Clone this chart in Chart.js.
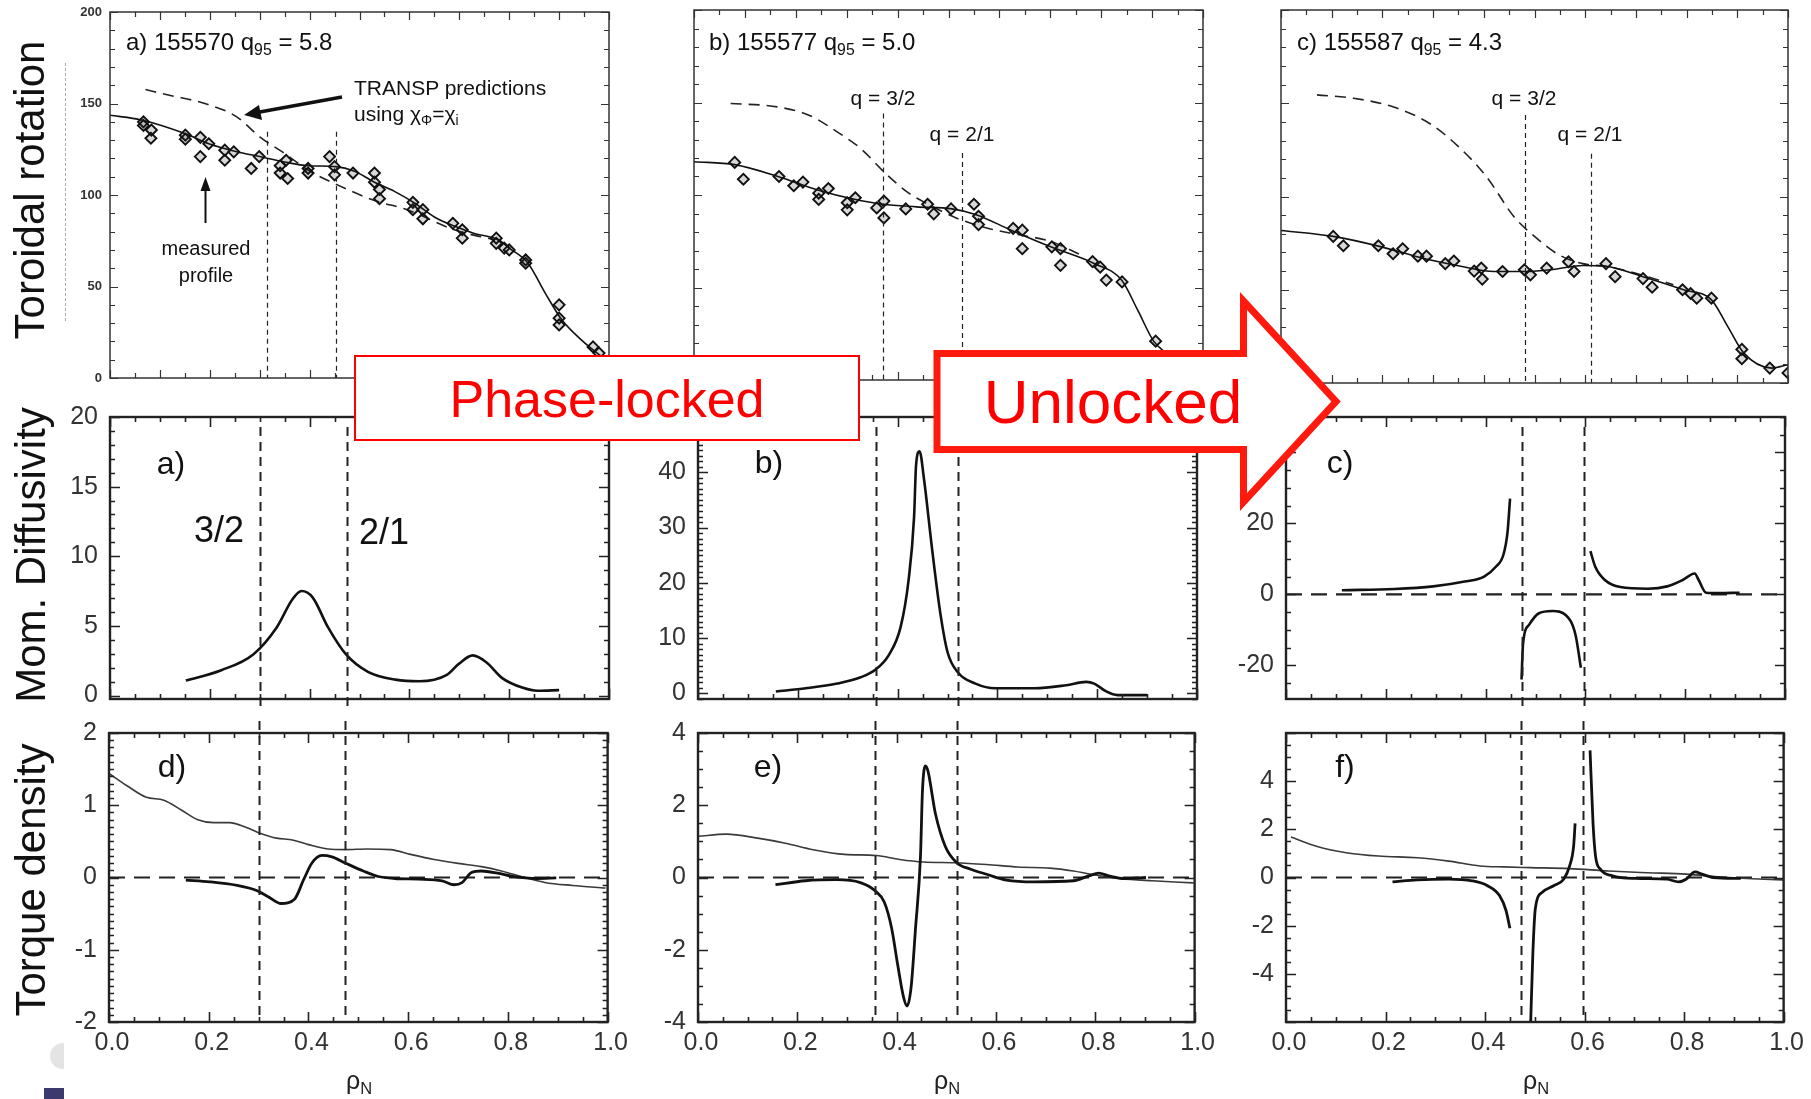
<!DOCTYPE html>
<html>
<head>
<meta charset="utf-8">
<title>Toroidal rotation, momentum diffusivity and torque density</title>
<script src="https://cdn.jsdelivr.net/npm/chart.js"></script>
<style>
  html, body { margin:0; padding:0; background:#fff; }
  body { width:1811px; height:1099px; overflow:hidden; position:relative; font-family:"Liberation Sans", Arial, Helvetica, sans-serif; }
  .pane { position:absolute; }
  .pane canvas { display:block; }
  .lbl { position:absolute; white-space:nowrap; line-height:1; color:#111; transform:translate(-50%,-50%); }
  .lft { position:absolute; white-space:nowrap; line-height:1; color:#111; transform:translateY(-50%); }
  .yt { position:absolute; white-space:nowrap; line-height:1; font-size:42px; color:#111; transform:translate(-50%,-50%) rotate(-90deg); }
  sub { font-size:0.66em; vertical-align:-0.32em; line-height:0; }
  #ov { position:absolute; left:0; top:0; z-index:5; pointer-events:none; }
</style>
</head>
<body>
<script>
// ---------------- tick labels ----------------
const RHO_TICKS   = [0, 0.2, 0.4, 0.6, 0.8, 1.0];
const ROT_TICKS   = [0, 50, 100, 150, 200];
const DIF_A_TICKS = [0, 5, 10, 15, 20];
const DIF_B_TICKS = [0, 10, 20, 30, 40];
const DIF_C_TICKS = [-20, 0, 20, 40];
const TQ_D_TICKS  = [-2, -1, 0, 1, 2];
const TQ_E_TICKS  = [-4, -2, 0, 2, 4];
const TQ_F_TICKS  = [-4, -2, 0, 2, 4];

// ---------------- rational surfaces (rho_N) ----------------
const QTOP_A = [0.315, 0.452], QTOP_A_FROM = [134.5, 134.5];
const QTOP_B = [0.3705, 0.526], QTOP_B_FROM = [144, 122.7];
const QTOP_C = [0.482, 0.612], QTOP_C_FROM = [143.75, 122.9];
const Q_A = [0.300, 0.474];
const Q_B = [0.356, 0.521];
const Q_C = [0.473, 0.597];

// ---------------- toroidal rotation, shot 155570 ----------------
const fitA_rho = [0, 0.063, 0.15, 0.198, 0.254, 0.30, 0.35, 0.397, 0.452, 0.49, 0.53, 0.57, 0.611, 0.65, 0.69, 0.73, 0.778, 0.80, 0.837, 0.873, 0.905, 0.944, 0.984, 1.0];
const fitA_v   = [143.6, 141, 133.6, 128, 123.6, 121, 118, 116, 115.5, 113, 107, 102, 95.5, 88, 83, 79, 75.5, 71, 63, 46, 32, 21, 12, 9];
const predA_rho = [0.071, 0.119, 0.19, 0.254, 0.30, 0.35, 0.397, 0.452, 0.53, 0.595, 0.69, 0.77];
const predA_v   = [157.6, 154.5, 150, 142.7, 131.8, 122.7, 113.6, 106, 97, 92, 81, 75.5];
const ptsA_rho = [0.067,0.067,0.083,0.082,0.151,0.151,0.181,0.181,0.198,0.23,0.23,0.248,0.283,0.299,0.341,0.341,0.353,0.356,0.397,0.397,0.44,0.45,0.45,0.487,0.53,0.53,0.54,0.54,0.607,0.607,0.627,0.627,0.687,0.706,0.706,0.774,0.774,0.79,0.80,0.833,0.833,0.9,0.9,0.9,0.968,0.98];
const ptsA_v   = [140,138,135.5,131,132.7,130.5,131.5,121,128,124.5,119,123.6,114.5,121,116,112,119,109,114.5,112,121,115.5,111,112,112,107,103,98,96,92,92,87,84.5,81,76.4,76.4,73.6,71,70,64.5,62.7,40,32.7,29,17,13.6];

// ---------------- toroidal rotation, shot 155577 ----------------
const fitB_rho = [0, 0.08, 0.165, 0.243, 0.313, 0.371, 0.437, 0.507, 0.553, 0.623, 0.701, 0.786, 0.84, 0.872, 0.903, 0.93];
const fitB_v   = [118, 116.4, 110, 102.7, 97.8, 95, 93.6, 92.5, 89.5, 81, 72, 63, 54, 37.6, 21, 14];
const predB_rho = [0.072, 0.165, 0.227, 0.282, 0.328, 0.375, 0.422, 0.46, 0.515, 0.577, 0.639, 0.70, 0.767];
const predB_v   = [149.5, 147.6, 143, 134, 125, 112, 101, 95, 87.6, 82, 78.5, 75, 66.7];
const ptsB_rho = [0.08,0.097,0.167,0.196,0.214,0.245,0.245,0.264,0.301,0.301,0.317,0.359,0.373,0.373,0.416,0.459,0.471,0.505,0.55,0.559,0.559,0.627,0.645,0.645,0.703,0.72,0.72,0.783,0.798,0.81,0.841,0.907];
const ptsB_v   = [117.6,108.5,110,105,107,101,97.6,103.5,95.8,92,98.5,93,96.7,87.6,92.5,95,89.8,92.5,95,88.5,84,82,81,71,72,71,62,64,61,54,53,21];

// ---------------- toroidal rotation, shot 155587 ----------------
const fitC_rho = [0, 0.103, 0.198, 0.278, 0.357, 0.42, 0.484, 0.54, 0.595, 0.643, 0.714, 0.794, 0.849, 0.881, 0.913, 0.968, 1.0];
const fitC_v   = [81.8, 78.6, 73, 67, 62.5, 59.8, 59.8, 61, 63, 62.5, 57, 50, 44.6, 30.4, 16, 8, 9.8];
const predC_rho = [0.071, 0.143, 0.222, 0.294, 0.349, 0.405, 0.46, 0.5, 0.548, 0.595, 0.643, 0.698, 0.774];
const predC_v   = [154.5, 152.7, 148, 139, 127, 110.7, 89, 78.6, 68.75, 64, 62.5, 59, 52.7];
const ptsC_rho = [0.103,0.123,0.192,0.221,0.24,0.27,0.287,0.324,0.341,0.381,0.395,0.397,0.437,0.48,0.492,0.524,0.567,0.578,0.641,0.659,0.714,0.732,0.792,0.808,0.82,0.849,0.909,0.909,0.964,1.0];
const ptsC_v   = [78.6,73.6,73.6,69.3,72,68,68,64,65.4,60,61.6,55.7,59.8,60.7,58,61.6,65,59.8,64,57,56,51.4,50,48,45.5,45.5,18,13,8,5.4];

// ---------------- momentum diffusivity ----------------
const difA_rho = [0.152, 0.223, 0.287, 0.334, 0.366, 0.384, 0.406, 0.437, 0.473, 0.517, 0.572, 0.62, 0.675, 0.699, 0.727, 0.754, 0.786, 0.826, 0.857, 0.9];
const difA_v   = [1.07, 1.82, 2.95, 4.89, 6.93, 7.5, 7.05, 4.89, 2.95, 1.7, 1.14, 1.02, 1.48, 2.27, 2.88, 2.39, 1.25, 0.57, 0.34, 0.39];
const difB_rho = [0.156, 0.216, 0.279, 0.326, 0.356, 0.382, 0.406, 0.422, 0.433, 0.437, 0.444, 0.453, 0.469, 0.485, 0.5, 0.521, 0.556, 0.596, 0.675, 0.738, 0.778, 0.794, 0.818, 0.841, 0.9];
const difB_v   = [0.37, 0.94, 1.79, 2.93, 4.34, 6.9, 12.0, 20.5, 31.9, 41.3, 43.8, 38.7, 26.2, 14.9, 7.5, 3.8, 1.79, 0.94, 0.94, 1.5, 2.1, 1.79, 0.37, -0.3, -0.3];
const difC1_rho = [0.112, 0.217, 0.295, 0.358, 0.397, 0.42, 0.436, 0.444, 0.449];
const difC1_v   = [1.17, 1.5, 2.25, 3.6, 5.0, 7.7, 11.3, 17.6, 27];
const difC2_rho = [0.472, 0.475, 0.487, 0.506, 0.534, 0.561, 0.58, 0.591];
const difC2_v   = [-24, -14, -8.6, -5.4, -4.7, -5.9, -11.3, -20.7];
const difC3_rho = [0.61, 0.62, 0.639, 0.67, 0.725, 0.764, 0.795, 0.819, 0.827, 0.842, 0.866, 0.909];
const difC3_v   = [12.2, 7.7, 4.05, 2.07, 1.6, 2.25, 4.05, 5.9, 4.05, 0.45, 0.36, 0.45];

// ---------------- torque density ----------------
const totD_rho = [0, 0.036, 0.075, 0.11, 0.146, 0.178, 0.21, 0.241, 0.273, 0.304, 0.336, 0.368, 0.40, 0.439, 0.474, 0.518, 0.565, 0.605, 0.652, 0.70, 0.747, 0.787, 0.834, 0.874, 0.929, 0.996];
const totD_v   = [1.44, 1.27, 1.11, 1.07, 0.93, 0.8, 0.76, 0.76, 0.7, 0.61, 0.545, 0.52, 0.455, 0.395, 0.386, 0.395, 0.386, 0.32, 0.25, 0.195, 0.15, 0.09, 0.0, -0.068, -0.11, -0.145];
const ntvD_rho = [0.154, 0.202, 0.257, 0.296, 0.32, 0.345, 0.372, 0.391, 0.407, 0.427, 0.447, 0.474, 0.51, 0.54, 0.573, 0.62, 0.668, 0.692, 0.708, 0.727, 0.747, 0.779, 0.81, 0.858, 0.897];
const ntvD_v   = [-0.036, -0.06, -0.11, -0.18, -0.27, -0.36, -0.3, -0.02, 0.2, 0.305, 0.286, 0.2, 0.09, 0.014, -0.014, -0.023, -0.045, -0.1, -0.07, 0.068, 0.09, 0.06, 0.014, -0.014, -0.005];

const totE_rho = [0, 0.057, 0.12, 0.176, 0.232, 0.295, 0.359, 0.406, 0.454, 0.517, 0.581, 0.644, 0.708, 0.756, 0.803, 0.851, 0.914, 0.998];
const totE_v   = [1.14, 1.2, 1.09, 0.95, 0.77, 0.64, 0.61, 0.5, 0.43, 0.41, 0.36, 0.29, 0.26, 0.18, 0.06, -0.03, -0.09, -0.15];
const ntvE_rho = [0.156, 0.216, 0.279, 0.327, 0.356, 0.375, 0.39, 0.402, 0.414, 0.421, 0.429, 0.438, 0.448, 0.452, 0.458, 0.463, 0.478, 0.498, 0.521, 0.549, 0.581, 0.621, 0.676, 0.756, 0.787, 0.807, 0.827, 0.859, 0.902];
const ntvE_v   = [-0.2, -0.09, -0.06, -0.14, -0.36, -0.68, -1.41, -2.41, -3.32, -3.56, -3.05, -1.41, 0.59, 2.41, 3.09, 2.95, 1.77, 0.86, 0.41, 0.23, 0.09, -0.07, -0.12, -0.09, 0.045, 0.12, 0.045, -0.03, 0.0];

const totF_rho = [0.01, 0.061, 0.124, 0.186, 0.264, 0.327, 0.39, 0.437, 0.491, 0.57, 0.648, 0.726, 0.804, 0.883, 1.0];
const totF_v   = [1.68, 1.3, 1.02, 0.89, 0.82, 0.68, 0.48, 0.44, 0.41, 0.37, 0.27, 0.2, 0.14, 0.0, -0.1];
const ntvF1_rho = [0.214, 0.264, 0.327, 0.374, 0.405, 0.429, 0.442, 0.45];
const ntvF1_v   = [-0.18, -0.1, -0.07, -0.14, -0.34, -0.75, -1.36, -2.11];
const ntvF2_rho = [0.491, 0.496, 0.501, 0.515, 0.538, 0.558, 0.57, 0.578, 0.581];
const ntvF2_v   = [-6.5, -3.2, -1.3, -0.61, -0.34, -0.07, 0.48, 1.3, 2.25];
const ntvF3_rho = [0.611, 0.617, 0.622, 0.632, 0.656, 0.703, 0.765, 0.789, 0.804, 0.822, 0.836, 0.859, 0.914];
const ntvF3_v   = [5.28, 2.25, 0.89, 0.34, 0.07, -0.04, -0.07, -0.18, -0.07, 0.23, 0.14, 0.0, -0.04];
</script>

<script>
const FONT = '"Liberation Sans", Arial, Helvetica, sans-serif';
const xy = (xs, ys) => xs.map((x, i) => ({ x: x, y: ys[i] }));
const curve = (xs, ys, w, color, dash) => ({
  type: 'line', data: xy(xs, ys), borderColor: color, borderWidth: w, borderDash: dash || [],
  pointRadius: 0, fill: false, cubicInterpolationMode: 'monotone', borderJoinStyle: 'round', borderCapStyle: 'butt'
});
const marks = (xs, ys) => ({
  type: 'scatter', data: xy(xs, ys), pointStyle: 'rectRot', pointRadius: 5.5,
  pointBorderWidth: 1.9, pointBorderColor: '#111', pointBackgroundColor: 'rgba(40,40,40,0.18)'
});
const zeroLine = () => curve([0, 1], [0, 0], 2.2, '#222', [16, 9]);

function framePlugin(o) {
  return {
    id: 'frame',
    afterDraw(chart) {
      const ctx = chart.ctx, a = chart.chartArea, xs = chart.scales.x, ys = chart.scales.y;
      const walk = (min, max, minor, major, fn) => {
        const k0 = Math.ceil(min / minor - 1e-6), k1 = Math.floor(max / minor + 1e-6);
        for (let k = k0; k <= k1; k++) {
          const v = k * minor, r = v / major;
          fn(v, Math.abs(r - Math.round(r)) < 1e-6 ? o.majLen : o.minLen);
        }
      };
      ctx.save();
      ctx.setLineDash([]);
      ctx.strokeStyle = o.color;
      ctx.lineWidth = o.tlw;
      ctx.beginPath();
      walk(xs.min, xs.max, o.xMinor, o.xMajor, (v, L) => {
        const p = Math.round(xs.getPixelForValue(v)) + 0.5;
        ctx.moveTo(p, a.bottom); ctx.lineTo(p, a.bottom - L);
        ctx.moveTo(p, a.top); ctx.lineTo(p, a.top + L);
      });
      walk(ys.min, ys.max, o.yMinor, o.yMajor, (v, L) => {
        const p = Math.round(ys.getPixelForValue(v)) + 0.5;
        ctx.moveTo(a.left, p); ctx.lineTo(a.left + L, p);
        ctx.moveTo(a.right, p); ctx.lineTo(a.right - L, p);
      });
      ctx.stroke();
      ctx.lineWidth = o.lw;
      ctx.strokeRect(a.left, a.top, a.right - a.left, a.bottom - a.top);
      ctx.restore();
    }
  };
}

function qPlugin(o) {
  return {
    id: 'qlines',
    afterDatasetsDraw(chart) {
      const ctx = chart.ctx, a = chart.chartArea, xs = chart.scales.x, ys = chart.scales.y;
      ctx.save();
      ctx.strokeStyle = o.color; ctx.lineWidth = o.lw; ctx.setLineDash(o.dash);
      o.xs.forEach((q, i) => {
        const px = Math.round(xs.getPixelForValue(q)) + 0.5;
        const y0 = o.from ? ys.getPixelForValue(o.from[i]) : a.top + o.topOff;
        const y1 = a.bottom + o.botOff;
        ctx.beginPath(); ctx.moveTo(px, y0); ctx.lineTo(px, y1); ctx.stroke();
      });
      ctx.restore();
    }
  };
}

function makeChart(box, cfg) {
  const padL = 80, padT = 22, padR = cfg.padR || 22, padB = 22, xh = cfg.xTicks ? 58 : 0;
  const w = box.R - box.L + padL + padR, h = box.B - box.T + padT + padB + xh;
  const div = document.createElement('div');
  div.className = 'pane';
  div.style.left = (box.L - padL) + 'px';
  div.style.top = (box.T - padT) + 'px';
  div.style.width = w + 'px';
  div.style.height = h + 'px';
  const cv = document.createElement('canvas');
  cv.width = w; cv.height = h;
  cv.style.width = w + 'px'; cv.style.height = h + 'px';
  div.appendChild(cv);
  document.body.appendChild(div);
  new Chart(cv, {
    type: 'line',
    data: { datasets: cfg.datasets },
    options: {
      responsive: false, animation: false, devicePixelRatio: 1,
      layout: { padding: { left: 0, top: padT, right: padR, bottom: padB } },
      plugins: { legend: { display: false }, tooltip: { enabled: false } },
      scales: {
        x: {
          type: 'linear', min: 0, max: 1, display: !!cfg.xTicks,
          grid: { display: false, drawTicks: false }, border: { display: false },
          afterBuildTicks: s => { s.ticks = (cfg.xTicks || RHO_TICKS).map(v => ({ value: v })); },
          afterFit: s => { s.height = xh; },
          ticks: { font: { family: FONT, size: 25 }, color: '#333', padding: 6, labelOffset: 3, autoSkip: false, maxRotation: 0,
                   callback: v => Number(v).toFixed(1) }
        },
        y: {
          type: 'linear', min: cfg.yMin, max: cfg.yMax,
          grid: { display: false, drawTicks: false }, border: { display: false },
          afterBuildTicks: s => { s.ticks = cfg.yTicks.map(v => ({ value: v })); },
          afterFit: s => { s.width = padL; },
          ticks: { display: cfg.showY !== false, font: { family: FONT, size: cfg.yFont || 25, weight: cfg.yWeight || 'normal' },
                   color: '#333', padding: cfg.yPad || 12, autoSkip: false, callback: v => String(v) }
        }
      }
    },
    plugins: [framePlugin(cfg.frame), qPlugin(cfg.q)]
  });
}

const frameTop = { lw: 1.5, tlw: 1.2, color: '#333', xMinor: 0.05, xMajor: 0.1, yMinor: 10, yMajor: 50, majLen: 8, minLen: 5 };
const fr = (yMinor, yMajor) => ({ lw: 2.4, tlw: 1.6, color: '#222', xMinor: 0.05, xMajor: 0.2, yMinor: yMinor, yMajor: yMajor, majLen: 10, minLen: 5 });
const qTop = (xs, from) => ({ xs: xs, from: from, color: '#222', lw: 1.2, dash: [5, 4], botOff: 0 });
const qMid = xs => ({ xs: xs, color: '#222', lw: 2, dash: [9, 6], topOff: 10, botOff: 12 });
const qBot = xs => ({ xs: xs, color: '#222', lw: 2, dash: [9, 6], topOff: -12, botOff: 0 });
const PRED_DASH = [11, 7];

// ---- top row: toroidal rotation ----
makeChart({ L: 110, T: 12, R: 609, B: 378 }, {
  yMin: 0, yMax: 200, yTicks: ROT_TICKS, yFont: 13, yWeight: 'bold', yPad: 8,
  frame: frameTop, q: qTop(QTOP_A, QTOP_A_FROM),
  datasets: [marks(ptsA_rho, ptsA_v), curve(fitA_rho, fitA_v, 1.6, '#111'), curve(predA_rho, predA_v, 1.6, '#222', PRED_DASH)]
});
makeChart({ L: 694, T: 10, R: 1203, B: 380 }, {
  yMin: 0, yMax: 200, yTicks: ROT_TICKS, showY: false,
  frame: frameTop, q: qTop(QTOP_B, QTOP_B_FROM),
  datasets: [marks(ptsB_rho, ptsB_v), curve(fitB_rho, fitB_v, 1.6, '#111'), curve(predB_rho, predB_v, 1.6, '#222', PRED_DASH)]
});
makeChart({ L: 1281, T: 10, R: 1788, B: 383 }, {
  yMin: 0, yMax: 200, yTicks: ROT_TICKS, showY: false, padR: 20,
  frame: frameTop, q: qTop(QTOP_C, QTOP_C_FROM),
  datasets: [marks(ptsC_rho, ptsC_v), curve(fitC_rho, fitC_v, 1.6, '#111'), curve(predC_rho, predC_v, 1.6, '#222', PRED_DASH)]
});

// ---- middle row: momentum diffusivity ----
makeChart({ L: 110, T: 412, R: 609, B: 704 }, {
  yMin: -0.25, yMax: 20, yTicks: DIF_A_TICKS, frame: fr(1, 5), q: qMid(Q_A),
  datasets: [curve(difA_rho, difA_v, 2.6, '#111')]
});
makeChart({ L: 698, T: 412, R: 1197, B: 704 }, {
  yMin: -1, yMax: 50, yTicks: DIF_B_TICKS, frame: fr(1, 10), q: qMid(Q_B),
  datasets: [curve(difB_rho, difB_v, 2.6, '#111')]
});
makeChart({ L: 1286, T: 412, R: 1785, B: 704 }, {
  yMin: -29.5, yMax: 50, yTicks: DIF_C_TICKS, frame: fr(5, 20), q: qMid(Q_C),
  datasets: [curve(difC1_rho, difC1_v, 2.6, '#111'), curve(difC2_rho, difC2_v, 2.6, '#111'),
             curve(difC3_rho, difC3_v, 2.6, '#111'), zeroLine()]
});

// ---- bottom row: torque density ----
makeChart({ L: 109, T: 728, R: 609, B: 1022 }, {
  yMin: -2, yMax: 2, yTicks: TQ_D_TICKS, xTicks: RHO_TICKS, frame: fr(0.1, 1), q: qBot(Q_A),
  datasets: [curve(ntvD_rho, ntvD_v, 2.8, '#111'), curve(totD_rho, totD_v, 1.6, '#3a3a3a'), zeroLine()]
});
makeChart({ L: 698, T: 728, R: 1196, B: 1022 }, {
  yMin: -4, yMax: 4, yTicks: TQ_E_TICKS, xTicks: RHO_TICKS, frame: fr(0.5, 2), q: qBot(Q_B),
  datasets: [curve(ntvE_rho, ntvE_v, 2.8, '#111'), curve(totE_rho, totE_v, 1.6, '#3a3a3a'), zeroLine()]
});
makeChart({ L: 1286, T: 728, R: 1785, B: 1022 }, {
  yMin: -6, yMax: 6, yTicks: TQ_F_TICKS, xTicks: RHO_TICKS, frame: fr(0.5, 2), q: qBot(Q_C),
  datasets: [curve(ntvF1_rho, ntvF1_v, 2.8, '#111'), curve(ntvF2_rho, ntvF2_v, 2.8, '#111'),
             curve(ntvF3_rho, ntvF3_v, 2.8, '#111'), curve(totF_rho, totF_v, 1.6, '#3a3a3a'), zeroLine()]
});
</script>

<!-- axis titles -->
<div class="yt" style="left:30px;top:190px;">Toroidal rotation</div>
<div class="yt" style="left:31px;top:555px;">Mom. Diffusivity</div>
<div class="yt" style="left:31px;top:880px;">Torque density</div>
<div style="position:absolute;left:65px;top:63px;height:258px;border-left:1px dashed #aaa;"></div>

<!-- top row labels -->
<div class="lft" style="left:126px;top:42px;font-size:24px;">a) 155570 q<sub>95</sub> = 5.8</div>
<div class="lft" style="left:709px;top:42px;font-size:24px;">b) 155577 q<sub>95</sub> = 5.0</div>
<div class="lft" style="left:1297px;top:42px;font-size:24px;">c) 155587 q<sub>95</sub> = 4.3</div>
<div class="lft" style="left:354px;top:87px;font-size:21px;">TRANSP predictions</div>
<div class="lft" style="left:354px;top:113px;font-size:21px;">using χ<sub>Φ</sub>=χ<sub>i</sub></div>
<div class="lbl" style="left:206px;top:248px;font-size:20px;">measured</div>
<div class="lbl" style="left:206px;top:275px;font-size:20px;">profile</div>
<div class="lbl" style="left:883px;top:97px;font-size:21px;">q = 3/2</div>
<div class="lbl" style="left:962px;top:133px;font-size:21px;">q = 2/1</div>
<div class="lbl" style="left:1524px;top:97px;font-size:21px;">q = 3/2</div>
<div class="lbl" style="left:1590px;top:133px;font-size:21px;">q = 2/1</div>

<!-- middle row labels -->
<div class="lbl" style="left:171px;top:463px;font-size:32px;">a)</div>
<div class="lbl" style="left:219px;top:530px;font-size:36px;">3/2</div>
<div class="lbl" style="left:384px;top:532px;font-size:36px;">2/1</div>
<div class="lbl" style="left:769px;top:462px;font-size:32px;">b)</div>
<div class="lbl" style="left:1340px;top:462px;font-size:32px;">c)</div>

<!-- bottom row labels -->
<div class="lbl" style="left:172px;top:766px;font-size:32px;">d)</div>
<div class="lbl" style="left:768px;top:766px;font-size:32px;">e)</div>
<div class="lbl" style="left:1345px;top:766px;font-size:32px;">f)</div>
<div class="lbl" style="left:359px;top:1080px;font-size:25px;color:#222;">ρ<sub>N</sub></div>
<div class="lbl" style="left:947px;top:1080px;font-size:25px;color:#222;">ρ<sub>N</sub></div>
<div class="lbl" style="left:1536px;top:1080px;font-size:25px;color:#222;">ρ<sub>N</sub></div>

<!-- small logo fragment bottom-left -->
<div style="position:absolute;left:50px;top:1043px;width:14px;height:26px;background:#e4e4e4;border-radius:14px 0 0 14px;"></div>
<div style="position:absolute;left:44px;top:1088px;width:20px;height:11px;background:#3b3a6e;"></div>

<!-- overlays -->
<svg id="ov" width="1811" height="1099" xmlns="http://www.w3.org/2000/svg">
  <line x1="342" y1="97" x2="257" y2="112.5" stroke="#111" stroke-width="3.4"/>
  <polygon points="244,115 259,105 262,120" fill="#111"/>
  <line x1="205.5" y1="223" x2="205.5" y2="189" stroke="#111" stroke-width="2"/>
  <polygon points="205.5,177 200.5,191 210.5,191" fill="#111"/>

  <rect x="355" y="356" width="504" height="84" fill="#fff" stroke="#ff0000" stroke-width="2"/>
  <text x="607" y="417" text-anchor="middle" font-family="Liberation Sans, Arial, sans-serif" font-size="52" fill="#ff0000">Phase-locked</text>

  <polygon points="937,353.5 1243.5,353.5 1243.5,301 1336,401.5 1243.5,502 1243.5,449.5 937,449.5"
           fill="#fff" stroke="#ff1a0d" stroke-width="7" stroke-linejoin="miter"/>
  <text x="1113" y="423" text-anchor="middle" font-family="Liberation Sans, Arial, sans-serif" font-size="62" fill="#ff0000">Unlocked</text>
</svg>
</body>
</html>
